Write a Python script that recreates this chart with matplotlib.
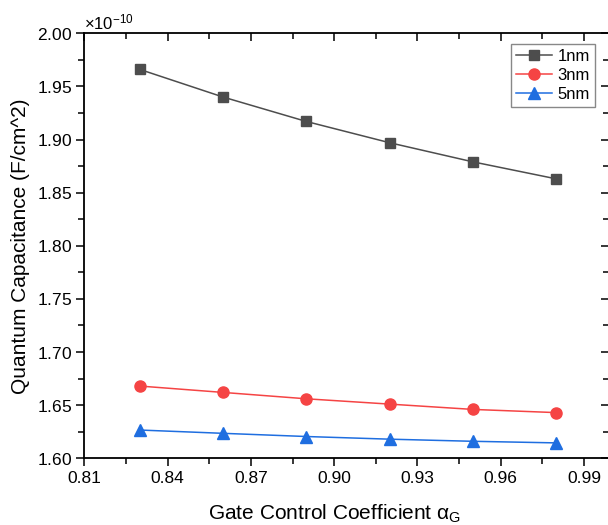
import matplotlib
matplotlib.use("Agg")
import matplotlib.pyplot as plt
from matplotlib.ticker import MultipleLocator, ScalarFormatter

plt.rcParams['font.family'] = ['Liberation Sans', 'DejaVu Sans']
plt.rcParams['mathtext.fontset'] = 'custom'
plt.rcParams['mathtext.rm'] = 'Liberation Sans'
plt.rcParams['mathtext.it'] = 'Liberation Sans'

# gate control coefficient
alpha_g = [0.83, 0.86, 0.89, 0.92, 0.95, 0.98]

# quantum capacitance (F/cm^2)
cap_1nm = [1.966e-10, 1.940e-10, 1.917e-10, 1.897e-10, 1.879e-10, 1.863e-10]
cap_3nm = [1.668e-10, 1.662e-10, 1.656e-10, 1.651e-10, 1.646e-10, 1.643e-10]
cap_5nm = [1.6266e-10, 1.6235e-10, 1.6205e-10, 1.618e-10, 1.616e-10, 1.6145e-10]

labels = ['1nm', '3nm', '5nm']

fig = plt.figure(figsize=(6.08, 5.25), dpi=100)
ax = fig.add_axes([84.3 / 608, 66.7 / 525, (609 - 84.3) / 608, (458.3 - 33.3) / 525])

ax.plot(alpha_g, cap_1nm, color='#4d4d4d', lw=1.1, marker='s', ms=6.5, label=labels[0])
ax.plot(alpha_g, cap_3nm, color='#f54444', lw=1.1, marker='o', ms=8, label=labels[1])
ax.plot(alpha_g, cap_5nm, color='#1f6ee0', lw=1.1, marker='^', ms=8.5, label=labels[2])

ax.set_xlim(0.81, 0.999)
ax.set_ylim(1.60e-10, 2.00e-10)

ax.xaxis.set_major_locator(MultipleLocator(0.03))
ax.xaxis.set_minor_locator(MultipleLocator(0.015))
ax.yaxis.set_major_locator(MultipleLocator(0.05e-10))
ax.yaxis.set_minor_locator(MultipleLocator(0.025e-10))
ax.xaxis.set_major_formatter(plt.FormatStrFormatter('%.2f'))

fmt = ScalarFormatter(useMathText=True)
ax.yaxis.set_major_formatter(fmt)
ax.yaxis.get_offset_text().set_fontsize(12)

for s in ax.spines.values():
    s.set_linewidth(1.3)

ax.tick_params(which='both', direction='out', top=True, right=True, labelsize=12.5, pad=3)
ax.tick_params(which='major', length=6, width=1.1)
ax.tick_params(which='minor', length=4, width=1.1)
# mirrored ticks on top and right point inward
for t in ax.xaxis.get_major_ticks() + ax.xaxis.get_minor_ticks():
    t.tick2line.set_marker(3)
for t in ax.yaxis.get_major_ticks() + ax.yaxis.get_minor_ticks():
    t.tick2line.set_marker(0)

ax.set_xlabel('Gate Control Coefficient α$_\\mathregular{G}$', fontsize=15)
ax.xaxis.set_label_coords(0.476, -0.105)
ax.set_ylabel('Quantum Capacitance (F/cm^2)', fontsize=15, labelpad=5)

leg = ax.legend(loc='upper right', bbox_to_anchor=(0.973, 0.975), fontsize=12,
                handlelength=2.2, handletextpad=0.3, borderpad=0.3,
                labelspacing=0.25, fancybox=False, framealpha=1, borderaxespad=0)
leg.get_frame().set_edgecolor('#888888')
leg.get_frame().set_linewidth(1.0)

fig.savefig('out.png', dpi=100)
